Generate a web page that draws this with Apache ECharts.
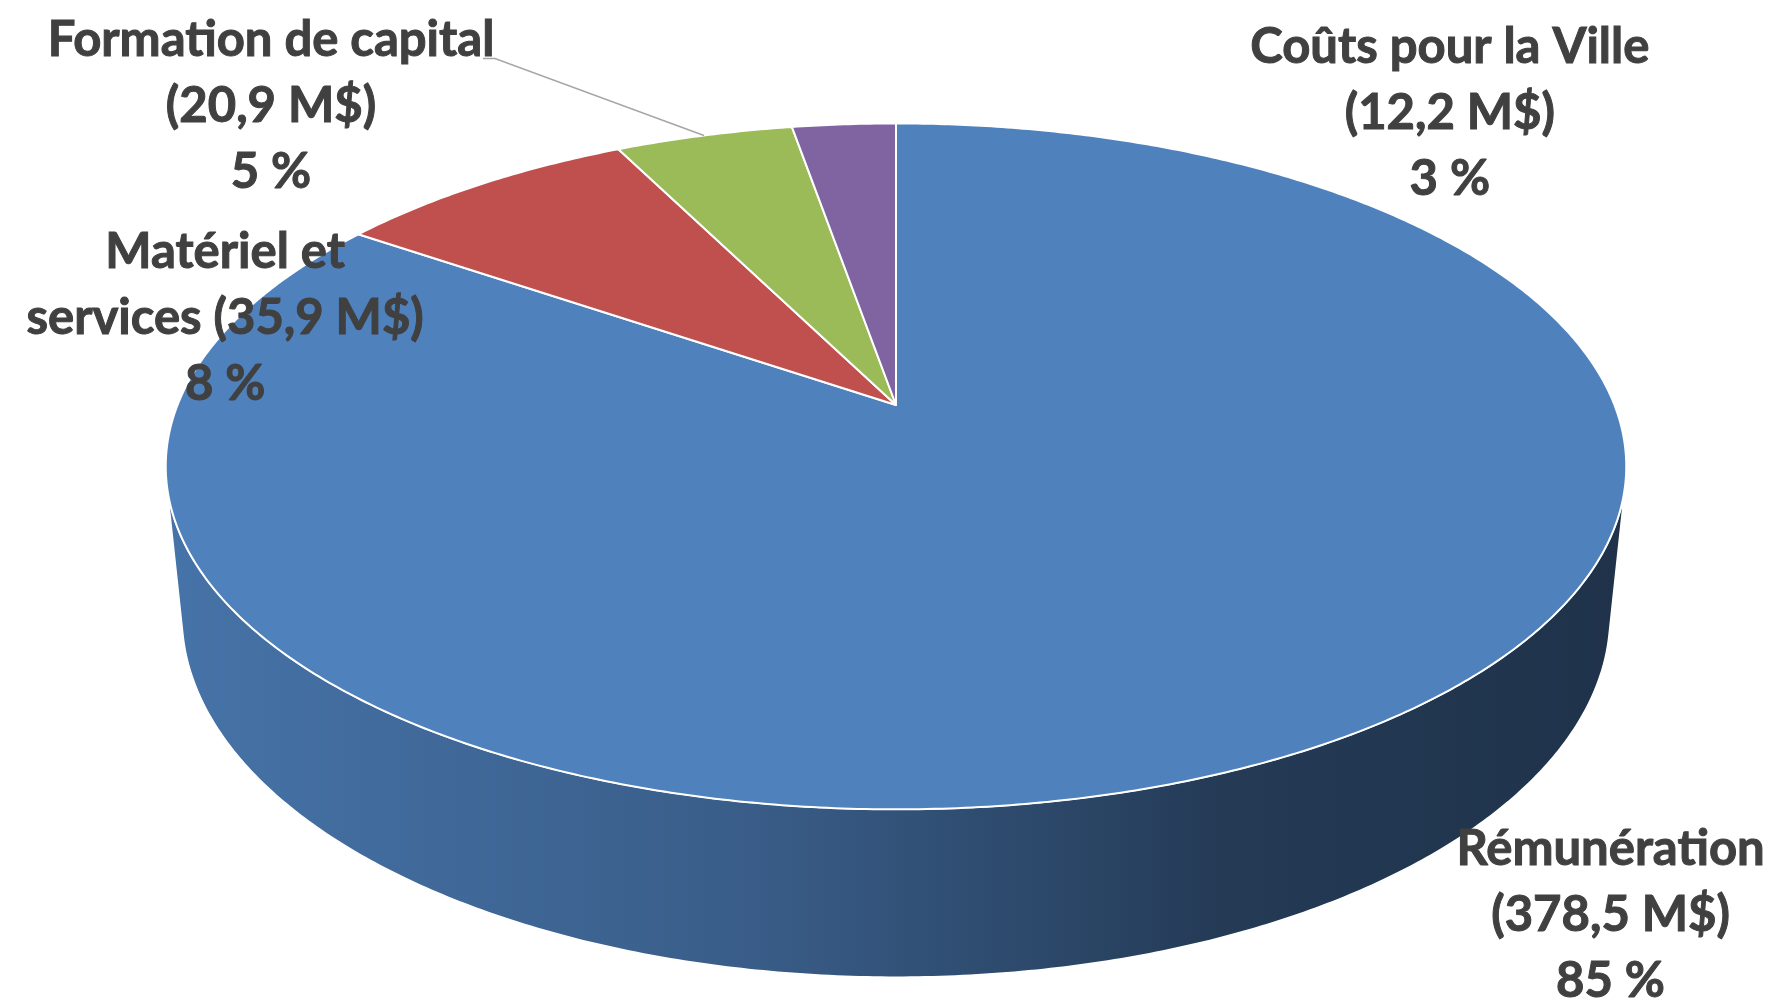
<!DOCTYPE html>
<html><head><meta charset="utf-8">
<script src="https://cdn.jsdelivr.net/npm/echarts@6/dist/echarts.min.js"></script>
<style>html,body{margin:0;padding:0;background:#fff}#main{width:1773px;height:1002px}</style>
</head><body><div id="main"></div>
<script>
// ---- data ----
const categories = ['Rémunération', 'Matériel et services', 'Formation de capital', 'Coûts pour la Ville'];
const amounts = [378.5, 35.9, 20.9, 12.2];           // M$
const colors = ['#4f81bd', '#c0504d', '#9bbb59', '#8064a2'];
// label text layout (line break after category name or inside it)
const labelNames = ['Rémunération', 'Matériel et\nservices', 'Formation de capital', 'Coûts pour la Ville'];
const labelNameSep = ['\n', ' ', '\n', '\n'];

// ---- layout (positions / styles) ----
const G = {cx: 896, cy: 405, F: 3560, D: 4.955, t: 27.52 * Math.PI / 180, h: 0.236};
const labelOffsets = [[317, 161], [-255, 134], [-433, -29], [606, -11]];
const leader = [false, false, true, false];
const labelFont = 'bold 49px Lato, "Open Sans", sans-serif';

const total = amounts.reduce((a, b) => a + b, 0);
const starts = [], ends = [];
let acc = 0;
amounts.forEach(v => { starts.push(acc / total * 2 * Math.PI); acc += v; ends.push(acc / total * 2 * Math.PI); });

function fmt(v) { return v.toFixed(1).replace('.', ','); }
function labelText(i) {
  const pct = Math.round(amounts[i] / total * 100);
  return labelNames[i] + labelNameSep[i] + '(' + fmt(amounts[i]) + ' M$)\n' + pct + ' %';
}
function projXYZ(X, Y, z) {
  const st = Math.sin(G.t), ct = Math.cos(G.t);
  const depth = G.D + Y * ct - z * st;
  const yc = Y * st + z * ct;
  return [G.cx + G.F * X / depth, G.cy - G.F * yc / depth];
}
function proj(th, z) { return projXYZ(Math.sin(th), Math.cos(th), z); }
function rim(a0, a1, z) {
  const pts = [];
  const n = Math.max(2, Math.ceil((a1 - a0) / (Math.PI / 360)));
  for (let k = 0; k <= n; k++) pts.push(proj(a0 + (a1 - a0) * k / n, z));
  return pts;
}
function shade(hex, f) {
  const n = parseInt(hex.slice(1), 16);
  const r = Math.round(((n >> 16) & 255) * f), g = Math.round(((n >> 8) & 255) * f), b = Math.round((n & 255) * f);
  return 'rgb(' + r + ',' + g + ',' + b + ')';
}
const thA = Math.acos(-1 / (G.D * Math.cos(G.t)));
const thB = 2 * Math.PI - thA;

const seriesData = amounts.map((v, i) => ({name: categories[i], value: v}));

const chart = echarts.init(document.getElementById('main'), null, {renderer: 'canvas'});
chart.setOption({
  backgroundColor: '#fff',
  animation: false,
  series: [
    { // side wall
      type: 'custom', coordinateSystem: 'none', z: 1, data: seriesData,
      renderItem: function (params, api) {
        const i = params.dataIndex;
        const a0 = Math.max(starts[i], thA), a1 = Math.min(ends[i], thB);
        if (a1 <= a0) return {type: 'group', children: []};
        const pts = rim(a0, a1, 0).concat(rim(a0, a1, -G.h).reverse());
        const xl = proj(thB, 0)[0], xr = proj(thA, 0)[0];
        const c = colors[i];
        return {
          type: 'polygon', shape: {points: pts},
          style: {
            fill: {type: 'linear', x: xl, y: 0, x2: xr, y2: 0, global: true,
              colorStops: [
                {offset: 0, color: shade(c, 0.89)},
                {offset: 0.4, color: shade(c, 0.72)},
                {offset: 0.6, color: shade(c, 0.56)},
                {offset: 0.73, color: shade(c, 0.45)},
                {offset: 1, color: shade(c, 0.39)}]},
            stroke: '#ffffff', lineWidth: 1.5
          }
        };
      }
    },
    { // top faces
      type: 'custom', coordinateSystem: 'none', z: 2, data: seriesData,
      renderItem: function (params, api) {
        const i = params.dataIndex;
        const pts = [projXYZ(0, 0, 0)].concat(rim(starts[i], ends[i], 0));
        return {
          type: 'polygon', shape: {points: pts},
          style: {fill: colors[i], stroke: '#ffffff', lineWidth: 2, lineJoin: 'round'}
        };
      }
    },
    { // labels
      type: 'custom', coordinateSystem: 'none', z: 3, data: seriesData,
      renderItem: function (params, api) {
        const i = params.dataIndex;
        const mid = (starts[i] + ends[i]) / 2;
        const an = proj(mid, 0);
        const lx = an[0] + labelOffsets[i][0], ly = an[1] + labelOffsets[i][1];
        const children = [{
          type: 'text', x: lx, y: ly, z2: 10,
          style: {text: labelText(i), font: labelFont, fill: '#404040',
            stroke: '#404040', lineWidth: 1,
            align: 'center', verticalAlign: 'middle', lineHeight: 66}
        }];
        if (leader[i]) {
          children.push({
            type: 'polyline', z2: 5,
            shape: {points: [an, [lx + 224, ly - 48], [lx + 212, ly - 48]]},
            style: {stroke: '#a6a6a6', lineWidth: 1.5, fill: null}
          });
        }
        return {type: 'group', children: children};
      }
    }
  ]
});
</script>
</body></html>
